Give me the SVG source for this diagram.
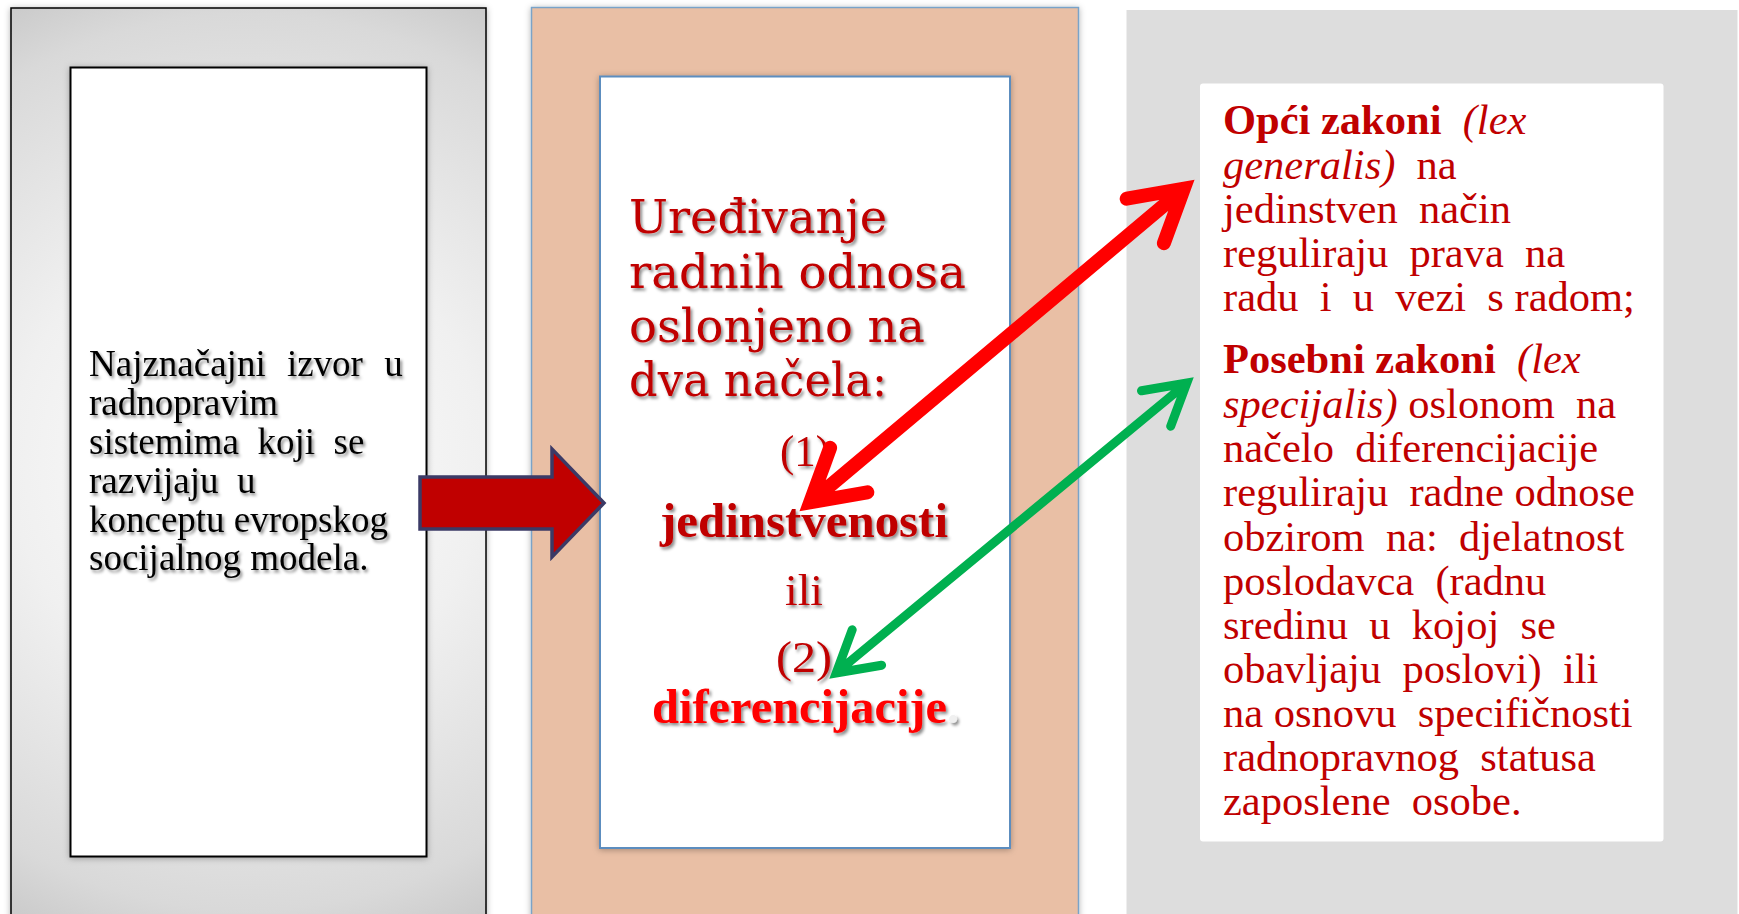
<svg xmlns="http://www.w3.org/2000/svg" width="1739" height="914" viewBox="0 0 1739 914">
<defs>
<style>
.lt{font-family:"Liberation Serif","Times New Roman",serif;font-size:37px;fill:#000;white-space:pre}
.hd{font-family:"DejaVu Serif",Georgia,serif;font-size:46px;fill:#c00000}
.sm{font-family:"Liberation Serif","Times New Roman",serif;font-size:45px;fill:#c00000}
.bd{font-family:"Liberation Serif","Times New Roman",serif;font-size:49px;font-weight:bold}
.rt{font-family:"Liberation Serif","Times New Roman",serif;font-size:42.5px;fill:#c00000;white-space:pre}
.b{font-weight:bold}
.i{font-style:italic}
.line{fill:none;stroke-linecap:round;stroke-linejoin:miter;stroke-miterlimit:10}
</style>
<radialGradient id="gL" gradientUnits="userSpaceOnUse" cx="248" cy="462" r="540">
<stop offset="0" stop-color="#ffffff"/>
<stop offset="0.44" stop-color="#f0f0f0"/>
<stop offset="0.83" stop-color="#d9d9d9"/>
<stop offset="1" stop-color="#c4c4c4"/>
</radialGradient>
<filter id="ts" x="-10%" y="-30%" width="120%" height="160%">
<feDropShadow dx="2" dy="2.5" stdDeviation="1.8" flood-color="#000" flood-opacity="0.45"/>
</filter>
<filter id="ps" x="-5%" y="-5%" width="110%" height="110%">
<feDropShadow dx="0" dy="1" stdDeviation="3" flood-color="#000" flood-opacity="0.3"/>
</filter>
</defs>

<g id="left-panel">
<rect x="11" y="8" width="475" height="930" fill="url(#gL)" stroke="#000" stroke-width="1.5" filter="url(#ps)"/>
<rect x="70.5" y="67.5" width="356" height="789" fill="#fff" stroke="#000" stroke-width="2" filter="url(#ps)"/>
<g class="lt" filter="url(#ts)">
<text xml:space="preserve" x="89" y="376" word-spacing="12">Najznačajni izvor u</text>
<text xml:space="preserve" x="89" y="415">radnopravim</text>
<text xml:space="preserve" x="89" y="454">sistemima  koji  se</text>
<text xml:space="preserve" x="89" y="493">razvijaju  u</text>
<text xml:space="preserve" x="89" y="532">konceptu evropskog</text>
<text xml:space="preserve" x="89" y="570">socijalnog modela.</text>
</g>
</g>

<g id="middle-panel">
<rect x="531.5" y="7.5" width="547" height="930" fill="#e9bfa5" stroke="#7aa3c8" stroke-width="1.5" filter="url(#ps)"/>
<rect x="600" y="76.5" width="410" height="771.5" fill="#fff" stroke="#5b8dbf" stroke-width="2" filter="url(#ps)"/>
<g filter="url(#ts)">
<text class="hd" x="629" y="233" textLength="258" lengthAdjust="spacingAndGlyphs">Uređivanje</text>
<text class="hd" x="629" y="288" textLength="337" lengthAdjust="spacingAndGlyphs">radnih odnosa</text>
<text class="hd" x="629" y="342" textLength="296" lengthAdjust="spacingAndGlyphs">oslonjeno na</text>
<text class="hd" x="629" y="396" textLength="258" lengthAdjust="spacingAndGlyphs">dva načela:</text>
<text class="sm" x="780" y="466" textLength="50" lengthAdjust="spacingAndGlyphs">(1)</text>
<text class="bd" x="660" y="537" fill="#c00000" textLength="288" lengthAdjust="spacingAndGlyphs">jedinstvenosti</text>
<text class="sm" x="785" y="605" textLength="38" lengthAdjust="spacingAndGlyphs">ili</text>
<text class="sm" x="776" y="672" textLength="56" lengthAdjust="spacingAndGlyphs">(2)</text>
<text class="bd" x="652" y="723" fill="#ff0000"><tspan textLength="295" lengthAdjust="spacingAndGlyphs">diferencijacije</tspan><tspan fill="#f0f0f0">.</tspan></text>
</g>
</g>

<g id="right-panel">
<rect x="1126.5" y="10" width="611" height="904" fill="#dddddd"/>
<rect x="1200" y="83.5" width="463.5" height="758" rx="3" fill="#fff"/>
<g class="rt">
<text xml:space="preserve" x="1223" y="134"><tspan class="b">Opći zakoni  </tspan><tspan class="i">(lex</tspan></text>
<text xml:space="preserve" x="1223" y="179"><tspan class="i">generalis)</tspan>  na</text>
<text xml:space="preserve" x="1223" y="223">jedinstven  način</text>
<text xml:space="preserve" x="1223" y="267">reguliraju  prava  na</text>
<text xml:space="preserve" x="1223" y="311">radu  i  u  vezi  s radom;</text>
<text xml:space="preserve" x="1223" y="373"><tspan class="b">Posebni zakoni  </tspan><tspan class="i">(lex</tspan></text>
<text xml:space="preserve" x="1223" y="418"><tspan class="i">specijalis)</tspan> oslonom  na</text>
<text xml:space="preserve" x="1223" y="462">načelo  diferencijacije</text>
<text xml:space="preserve" x="1223" y="506">reguliraju  radne odnose</text>
<text xml:space="preserve" x="1223" y="551">obzirom  na:  djelatnost</text>
<text xml:space="preserve" x="1223" y="595">poslodavca  (radnu</text>
<text xml:space="preserve" x="1223" y="639">sredinu  u  kojoj  se</text>
<text xml:space="preserve" x="1223" y="683">obavljaju  poslovi)  ili</text>
<text xml:space="preserve" x="1223" y="727">na osnovu  specifičnosti</text>
<text xml:space="preserve" x="1223" y="771">radnopravnog  statusa</text>
<text xml:space="preserve" x="1223" y="815">zaposlene  osobe.</text>
</g>
</g>

<g id="connectors">
<polygon id="block-arrow" points="420,477 552,477 552,449 604,503 552,557 552,529 420,529" fill="#c00000" stroke="#3b3a66" stroke-width="3.5" stroke-linejoin="miter"/>
<path id="red-arrow" class="line" stroke="#ff0000" stroke-width="14" d="M810.2,502.3 L1183.8,188.7 M1126.7,198.7 L1183.8,188.7 L1163.9,243.2 M867.3,492.3 L810.2,502.3 L830.1,447.8"/>
<path id="green-arrow" class="line" stroke="#00b050" stroke-width="9" d="M836.2,672.9 L1186.8,383.1 M1141.5,390.8 L1186.8,383.1 L1170.7,426.2 M881.6,665.2 L836.2,672.9 L852.2,629.8"/>
</g>
</svg>
